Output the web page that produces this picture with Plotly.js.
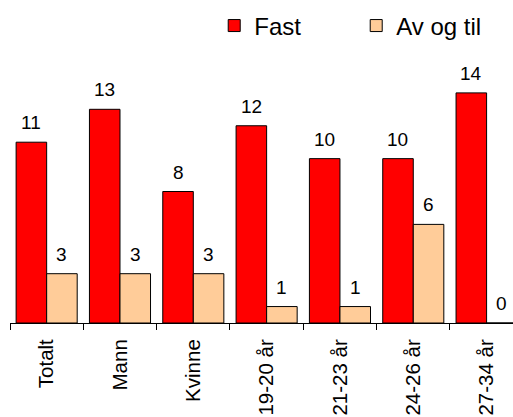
<!DOCTYPE html>
<html><head><meta charset="utf-8">
<script src="https://cdn.plot.ly/plotly-3.0.1.min.js"></script>
<style>html,body{margin:0;padding:0;background:#fff;}#chart{width:513px;height:417px;}</style>
</head><body><div id="chart"></div>
<script>
const categories = ["Totalt","Mann","Kvinne","19-20 år","21-23 år","24-26 år","27-34 år"];
const fastValues = [11,13,8,12,10,10,14];
const avOgTilValues = [3,3,3,1,1,6,0];
const seriesNames = ["Fast","Av og til"];

const font = "Liberation Sans, Arial, sans-serif";
const traces = [
  {type:"bar", name:seriesNames[0], x:categories, y:fastValues,
   marker:{color:"#ff0000", line:{color:"#000", width:1}}},
  {type:"bar", name:seriesNames[1], x:categories, y:avOgTilValues,
   marker:{color:"#ffcc99", line:{color:"#000", width:1}}}
];
const halfBar = 15.3;
const annotations = [];
[[fastValues,-halfBar],[avOgTilValues,halfBar]].forEach(([vals,dx])=>{
  vals.forEach((v,i)=>{
    annotations.push({x:categories[i], y:v, xref:"x", yref:"y", text:String(v),
      showarrow:false, xanchor:"center", yanchor:"bottom", xshift:dx, yshift:7,
      font:{family:font,size:19,color:"#000"}});
  });
});
const layout = {
  width:513, height:417,
  margin:{l:10,r:0,t:60,b:94, autoexpand:false},
  paper_bgcolor:"#fff", plot_bgcolor:"#fff",
  barmode:"group", bargap:0.167, bargroupgap:0,
  font:{family:font,color:"#000"},
  showlegend:true,
  annotations:annotations,
  legend:{orientation:"h", x:0.406, xanchor:"left", y:1.215, yanchor:"top",
          font:{family:font,size:24,color:"#000"}, itemwidth:30,
          entrywidth:97, entrywidthmode:"pixels"},
  xaxis:{type:"category", range:[-0.5,6.36], showline:true, linecolor:"#000", linewidth:1,
         ticks:"outside", tickson:"boundaries", ticklen:6, tickcolor:"#000",
         ticklabelstandoff:7, automargin:false,
         tickangle:-90, tickfont:{family:font,size:20.5,color:"#000"}, showgrid:false, zeroline:false},
  yaxis:{range:[0,16], visible:false, showgrid:false, zeroline:false, fixedrange:true, automargin:false}
};
Plotly.newPlot("chart", traces, layout, {displayModeBar:false, staticPlot:true});
</script></body></html>
